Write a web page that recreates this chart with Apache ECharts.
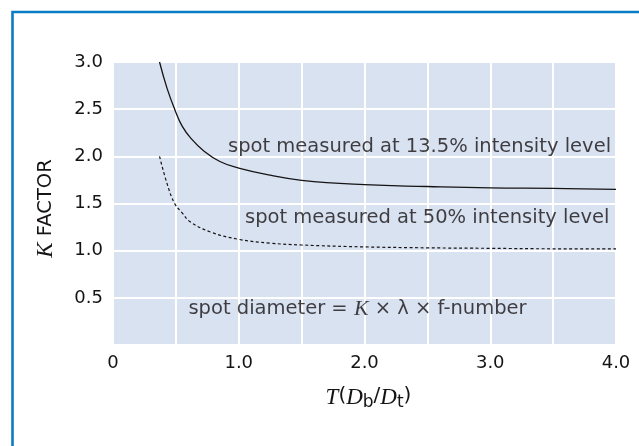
<!DOCTYPE html>
<html>
<head>
<meta charset="utf-8">
<script src="https://cdn.jsdelivr.net/npm/echarts@6/dist/echarts.min.js"></script>
<style>
  html, body { margin: 0; padding: 0; background: #fff; }
  #chart { width: 639px; height: 446px; }
</style>
</head>
<body>
<div id="chart"></div>
<script>
// K factor curves: [T(Db/Dt), K]
const curve135 = [
  [0.37, 3.0], [0.43, 2.72], [0.49, 2.5], [0.55, 2.32], [0.62, 2.19],
  [0.72, 2.06], [0.85, 1.945], [1.0, 1.875], [1.25, 1.8], [1.5, 1.745],
  [2.0, 1.70], [2.5, 1.68], [3.0, 1.665], [3.5, 1.66], [4.0, 1.65]
];
const curve50 = [
  [0.37, 2.0], [0.43, 1.71], [0.49, 1.5], [0.55, 1.40], [0.61, 1.31],
  [0.77, 1.20], [1.0, 1.12], [1.25, 1.08], [1.5, 1.06], [2.0, 1.04],
  [2.5, 1.03], [3.0, 1.025], [3.5, 1.02], [4.0, 1.02]
];
// annotation anchors (left edge, vertical centre) in data units
const notes = [
  [0.915, 2.10, 'spot measured at 13.5% intensity level'],
  [1.05, 1.35, 'spot measured at 50% intensity level'],
  [0.60, 0.38, 'spot diameter = {i|K}{s| × λ × }f-number']
];
const xTicks = [0, 1, 2, 3, 4];

const sans = '"DejaVu Sans", "Open Sans", sans-serif';
const serif = '"Liberation Serif", "DejaVu Serif", serif';
const ink = '#161314';

const chart = echarts.init(document.getElementById('chart'));

const option = {
  animation: false,
  backgroundColor: '#fff',
  textStyle: {fontFamily: sans, color: ink},
  graphic: [
    {
      // blue frame around the figure (open to the right/bottom like the crop)
      type: 'rect',
      shape: {x: 12.5, y: 12, width: 700, height: 600},
      style: {fill: 'none', stroke: '#0a7cc4', lineWidth: 2.6},
      z: 100
    }
  ],
  grid: {
    left: 113, top: 62, right: 23, bottom: 101,
    show: true, backgroundColor: '#d9e2f1', borderWidth: 0
  },
  xAxis: {
    type: 'value', min: 0, max: 4, interval: 0.5,
    axisLine: {show: false}, axisTick: {show: false},
    axisLabel: {
      fontSize: 18, color: ink, margin: 9, fontFamily: sans,
      formatter: function (v) {
        if (xTicks.indexOf(v) < 0) return '';
        return v === 0 ? '0' : v.toFixed(1);
      }
    },
    splitLine: {lineStyle: {color: '#fff', width: 2}},
    name: '{it|T}{r|(}{it|D}{sub|b}{r|/}{it|D}{sub|t}{r|)}',
    nameLocation: 'middle', nameGap: 41,
    nameTextStyle: {
      padding: [0, 0, 0, 8],
      rich: {
        it: {fontFamily: serif, fontStyle: 'italic', fontSize: 23, color: ink, lineHeight: 25, verticalAlign: 'top'},
        r: {fontFamily: sans, fontSize: 20, color: ink, lineHeight: 25, verticalAlign: 'top'},
        sub: {fontFamily: sans, fontSize: 17, color: ink, lineHeight: 17, verticalAlign: 'bottom'}
      }
    }
  },
  yAxis: {
    type: 'value', min: 0, max: 3, interval: 0.5,
    axisLine: {show: false}, axisTick: {show: false},
    axisLabel: {
      fontSize: 18, color: ink, margin: 10, fontFamily: sans,
      formatter: function (v) { return v === 0 ? '' : v.toFixed(1); }
    },
    splitLine: {lineStyle: {color: '#fff', width: 2}},
    name: '{it|K}{r| FACTOR}',
    nameLocation: 'middle', nameGap: 56, nameRotate: 90,
    nameTextStyle: {
      padding: [0, 10, 0, 0],
      rich: {
        it: {fontFamily: serif, fontStyle: 'italic', fontSize: 23, color: ink},
        r: {fontFamily: sans, fontSize: 19.5, color: ink}
      }
    }
  },
  series: [
    {
      name: '13.5%', type: 'line', data: curve135, smooth: 0.45,
      showSymbol: false, silent: true,
      lineStyle: {color: ink, width: 1.3}
    },
    {
      name: '50%', type: 'line', data: curve50, smooth: 0.4,
      showSymbol: false, silent: true,
      lineStyle: {color: ink, width: 1.2, type: [3, 2.5]}
    },
    {
      name: 'notes', type: 'scatter', data: notes, symbolSize: 0, silent: true,
      label: {
        show: true, position: 'right', distance: 0,
        fontSize: 19.5, color: ink, fontFamily: sans,
        formatter: function (p) { return p.data[2]; },
        rich: {
          i: {fontFamily: serif, fontStyle: 'italic', fontSize: 22, color: ink},
          s: {fontFamily: sans, fontSize: 19.5, color: ink}
        }
      }
    }
  ]
};

chart.setOption(option);
</script>
</body>
</html>
